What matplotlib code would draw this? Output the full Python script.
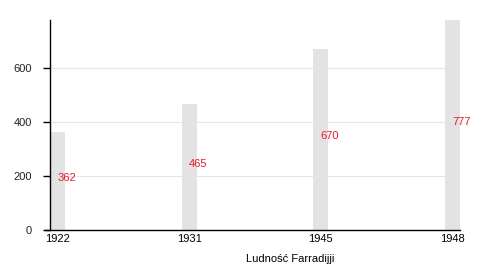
import matplotlib.pyplot as plt

# dane
lata = ['1922', '1931', '1945', '1948']
ludnosc = [362, 465, 670, 777]

plt.rcParams['font.family'] = ['Liberation Sans', 'DejaVu Sans']
plt.rcParams['font.size'] = 8

fig = plt.figure(figsize=(5, 2.7), dpi=100)
ax = fig.add_axes([50 / 500, 40 / 270, 410 / 500, 210 / 270])

szer = 0.114
pozycje = list(range(len(lata)))
ax.bar(pozycje, ludnosc, width=szer, color='#e3e3e3', zorder=2)

# podpisy wartosci w polowie slupka
for x, v in zip(pozycje, ludnosc):
    ax.text(x, v / 2, str(v), color='#e8192c', ha='left', va='baseline',
            fontsize=8, zorder=3)

ax.set_xlim(-szer / 2, len(lata) - 1 + szer / 2)
ax.set_ylim(0, max(ludnosc))
ax.set_xticks(pozycje)
ax.set_xticklabels(lata)
ax.set_yticks([0, 200, 400, 600])

ax.yaxis.grid(True, color='#e6e6e6', linewidth=0.8, zorder=0)
ax.set_axisbelow(True)

for s in ['top', 'right']:
    ax.spines[s].set_visible(False)
ax.spines['left'].set_linewidth(1)
ax.spines['bottom'].set_linewidth(1)
ax.spines['bottom'].set_bounds(-szer / 2 - 0.04, len(lata) - 1 + szer / 2)

ax.tick_params(axis='x', length=0, pad=3, colors='black')
ax.tick_params(axis='y', length=5, width=1, pad=8, colors='black')
for lab in ax.get_yticklabels():
    lab.set_color('#222222')

ax.set_xlabel('Ludność Farradijji', fontsize=8)
ax.xaxis.set_label_coords(0.585, -0.115)

plt.savefig('out.png', dpi=100)
